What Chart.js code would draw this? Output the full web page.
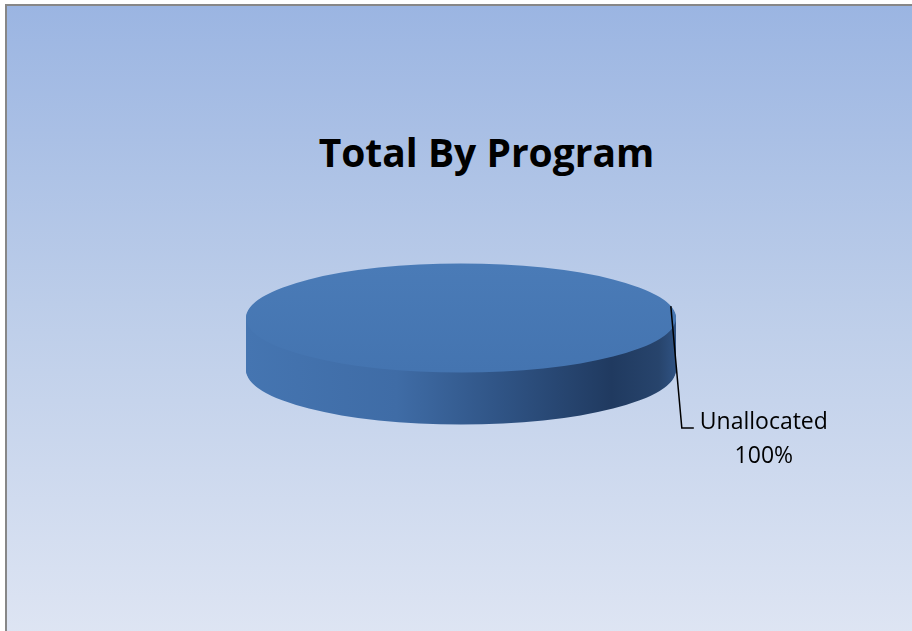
<!DOCTYPE html>
<html>
<head>
<meta charset="utf-8">
<script src="https://cdn.jsdelivr.net/npm/chart.js@4.4.0/dist/chart.umd.min.js"></script>
<style>
  html, body { margin: 0; padding: 0; width: 912px; height: 631px; overflow: hidden; background: #fff; }
  #frame {
    position: absolute; left: 5px; top: 4px; width: 940px; height: 660px;
    border: 2px solid #878787;
    background: linear-gradient(to bottom, #9bb5e2 0%, #bccde9 45%, #e1e7f4 100%);
  }
  #title {
    position: absolute; left: 0; top: 133px; width: 973px; text-align: center;
    font: bold 39px "Open Sans", sans-serif; line-height: 38px; color: #000;
  }
  canvas { position: absolute; left: 0; top: 0; }
</style>
</head>
<body>
<div id="frame"></div>
<div id="title">Total By Program</div>
<canvas id="chart" width="912" height="631"></canvas>
<script>
const categories = ['Unallocated'];
const values = [100];

// squash ratio and thickness of the 3D disc
const TILT = 0.254;
const DEPTH = 52;

const pie3d = {
  id: 'pie3d',
  beforeDatasetsDraw(chart) {
    const ctx = chart.ctx;
    const meta = chart.getDatasetMeta(0);
    const arc = meta.data[0];
    const cx = arc.x, cy = arc.y, r = arc.outerRadius;
    const saved = arc.options.backgroundColor;

    const side = ctx.createLinearGradient(cx - r, 0, cx + r, 0);
    side.addColorStop(0, '#4575b1');
    side.addColorStop(0.35, '#3f6ca6');
    side.addColorStop(0.6, '#2f5384');
    side.addColorStop(0.85, '#203a60');
    side.addColorStop(0.96, '#27446c');
    side.addColorStop(1, '#2f5282');

    // side wall: stack squashed copies of the slice downward
    for (let d = DEPTH; d >= 1; d--) {
      ctx.save();
      ctx.translate(0, cy + d);
      ctx.scale(1, TILT);
      ctx.translate(0, -cy);
      meta.data.forEach(a => { a.options.backgroundColor = side; a.draw(ctx); });
      ctx.restore();
    }

    // top face
    const top = ctx.createLinearGradient(0, cy - r, 0, cy + r);
    top.addColorStop(0, '#4a7bb7');
    top.addColorStop(1, '#4474b0');
    ctx.save();
    ctx.translate(0, cy);
    ctx.scale(1, TILT);
    ctx.translate(0, -cy);
    meta.data.forEach(a => { a.options.backgroundColor = top; a.draw(ctx); });
    ctx.restore();
    arc.options.backgroundColor = saved;
    return false;
  },
  afterDraw(chart) {
    const ctx = chart.ctx;
    const meta = chart.getDatasetMeta(0);
    const total = values.reduce((s, v) => s + v, 0);
    meta.data.forEach((a, i) => {
      const ang = -0.22;
      const ax = a.x + a.outerRadius * Math.cos(ang);
      const ay = a.y + a.outerRadius * TILT * Math.sin(ang);
      const bx = ax + 11, by = ay + 122;
      ctx.save();
      ctx.strokeStyle = '#000';
      ctx.lineWidth = 1.5;
      ctx.beginPath();
      ctx.moveTo(ax, ay);
      ctx.lineTo(bx, by);
      ctx.lineTo(bx + 12, by);
      ctx.stroke();
      ctx.fillStyle = '#000';
      ctx.font = '23px "Open Sans", sans-serif';
      ctx.textAlign = 'center';
      ctx.textBaseline = 'middle';
      const tx = bx + 82;
      ctx.fillText(categories[i], tx, by - 6);
      ctx.fillText(Math.round(values[i] / total * 100) + '%', tx, by + 28);
      ctx.restore();
    });
  }
};

new Chart(document.getElementById('chart'), {
  type: 'pie',
  data: {
    labels: categories,
    datasets: [{
      data: values,
      backgroundColor: ['#4677b4'],
      borderWidth: 0
    }]
  },
  options: {
    responsive: false,
    animation: false,
    layout: { padding: { left: 246, right: 236, top: 103, bottom: 98 } },
    plugins: {
      legend: { display: false },
      tooltip: { enabled: false },
      title: { display: false }
    }
  },
  plugins: [pie3d]
});
</script>
</body>
</html>
